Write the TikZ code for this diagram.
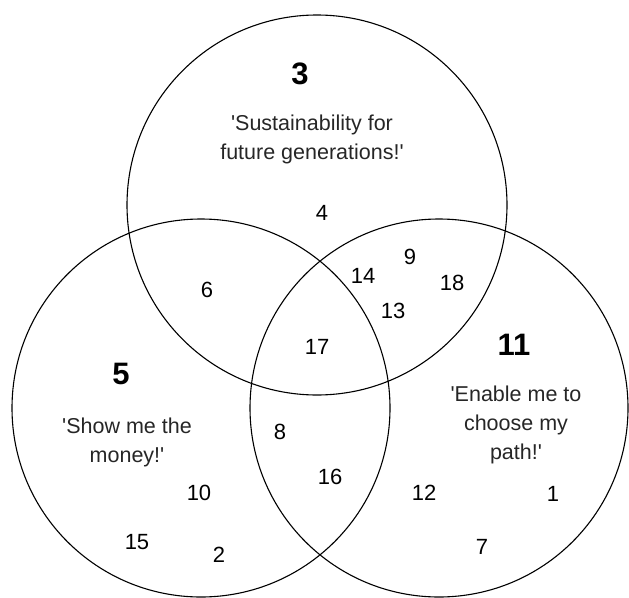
\documentclass[tikz,border=0pt]{standalone}
\usepackage{fontspec}
\setmainfont{Liberation Sans}
% straight typewriter apostrophe, placed as a glyph so no quote mapping applies
\newcommand\sq{\XeTeXglyph\XeTeXcharglyph"27\relax}
\begin{document}
\begin{tikzpicture}[x=1pt,y=-1pt,
  ring/.style={draw=black,line width=1.1pt},
  big/.style={font=\fontsize{31}{31}\selectfont\bfseries,inner sep=0pt},
  num/.style={font=\fontsize{22}{22}\selectfont,inner sep=0pt},
  quote/.style={font=\fontsize{21.5}{29}\selectfont,align=center,anchor=base,inner sep=0pt,text=black!85}]
\useasboundingbox (0,0) rectangle (629,597);
% the three sets
\draw[ring] (317,205) circle[radius=190];
\draw[ring] (201,408) circle[radius=189];
\draw[ring] (439,408) circle[radius=189];
% set titles and mottos (a motto node sits on the baseline of its last line)
\node[big] (t3) at (300,74) {3};
\node[quote] (q3) at (312,159) {\sq Sustainability for\\future generations!\sq};
\node[big] (t5) at (121,374) {5};
\node[quote] (q5) at (127,462) {\sq Show me the\\money!\sq};
\node[big] (t11) at (514,345) {11};
\node[quote] (q11) at (516,459) {\sq Enable me to\\choose my\\path!\sq};
% members
\node[num] (n4)  at (322,213) {4};
\node[num] (n6)  at (207,290) {6};
\node[num] (n14) at (363,276) {14};
\node[num] (n9)  at (410,257) {9};
\node[num] (n18) at (452,283) {18};
\node[num] (n13) at (393,311) {13};
\node[num] (n17) at (317,347) {17};
\node[num] (n8)  at (280,432) {8};
\node[num] (n16) at (330,477) {16};
\node[num] (n10) at (199,493) {10};
\node[num] (n15) at (137,542) {15};
\node[num] (n2)  at (219,555) {2};
\node[num] (n12) at (424,493) {12};
\node[num] (n1)  at (553,494) {1};
\node[num] (n7)  at (482,547) {7};
\end{tikzpicture}
\end{document}
